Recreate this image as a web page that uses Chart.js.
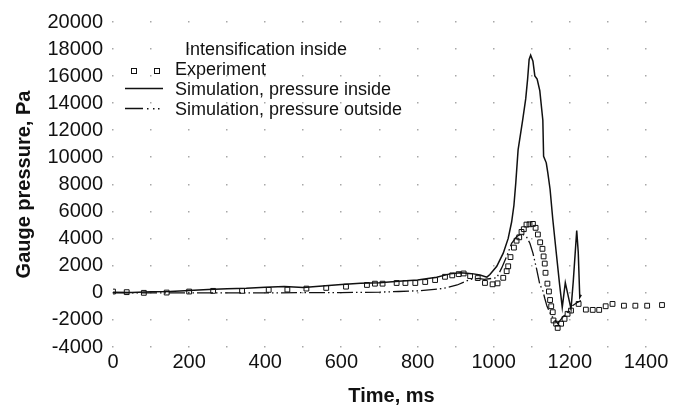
<!DOCTYPE html>
<html>
<head>
<meta charset="utf-8">
<script src="https://cdn.jsdelivr.net/npm/chart.js@4.4.0/dist/chart.umd.min.js"></script>
<style>
  body { margin: 0; background: #fff; }
</style>
</head>
<body>
<canvas id="chart" width="675" height="412"></canvas>
<script>
// --- Data ---

const legendTitle = 'Intensification inside';

// Experiment (open squares)
const expTime = [0, 36, 81, 141, 200, 263, 339, 409, 458, 508, 560, 612, 667, 688, 708, 745, 768, 794, 820, 846,
    872, 891, 908, 921, 938, 958, 977, 997, 1010, 1025, 1034, 1038, 1044, 1053, 1060, 1067, 1073, 1079, 1086, 1094,
    1103, 1110, 1116, 1122, 1128, 1131, 1134, 1136, 1141, 1145, 1148, 1151, 1155, 1157, 1164, 1168, 1177, 1186, 1194,
    1203, 1223, 1242, 1260, 1277, 1294, 1312, 1342, 1372, 1403, 1442];
const expPressure = [95, 50, 0, 20, 95, 145, 145, 218, 240, 313, 364, 458, 582, 676, 676, 727, 727, 727, 800, 945,
    1185, 1290, 1380, 1430, 1240, 1090, 730, 630, 700, 1110, 1600, 1960, 2640, 3340, 3850, 4100, 4500, 4700, 5040, 5060,
    5090, 4800, 4310, 3730, 3250, 2690, 2160, 1480, 680, 100, -530, -990, -1430, -2040, -2280, -2590, -2280, -1920, -1550,
    -1310, -820, -1240, -1260, -1260, -990, -820, -950, -950, -950, -900];

// Simulation, pressure inside (solid)
const inTime = [0, 50, 100, 150, 200, 250, 300, 350, 400, 450, 500, 550, 600, 650, 700, 750, 800, 850, 885, 912,
    930, 947, 964, 982, 990, 1008, 1025, 1038, 1047, 1053, 1058, 1064, 1076, 1084, 1089, 1093, 1097, 1103, 1108, 1114,
    1121, 1129, 1131, 1138, 1142, 1148, 1155, 1163, 1173, 1180, 1188, 1203, 1209, 1218, 1222, 1226, 1230];
const inPressure = [50, 30, 80, 100, 180, 250, 300, 330, 420, 460, 400, 500, 620, 700, 750, 850, 950, 1150, 1400, 1480,
    1450, 1400, 1310, 1160, 1350, 1960, 2930, 4020, 5230, 6450, 8140, 10560, 12750, 14320, 15780, 17230, 17550, 17110, 16020, 15780,
    14930, 12750, 10080, 9600, 8870, 7650, 5470, 3290, 630, -1070, 750, -1190, 870, 4600, 3000, -340, -150];

// Simulation, pressure outside (dash-dot)
const outTime = [0, 200, 400, 600, 700, 750, 800, 852, 880, 904, 938, 960, 975, 1000, 1008, 1021, 1034, 1047, 1060, 1073,
    1086, 1095, 1103, 1112, 1121, 1129, 1134, 1140, 1151, 1162, 1168, 1181, 1194, 1207, 1220, 1229];
const outPressure = [0, 0, 0, 20, 50, 100, 150, 270, 400, 580, 990, 1060, 1000, 1080, 1115, 1840, 2690, 3660, 4140, 4390,
    4140, 3660, 2930, 1840, 630, 150, -400, -1000, -1670, -2040, -2280, -1800, -1430, -950, -700, -580];

// tick labels
const timeTicks = [0, 200, 400, 600, 800, 1000, 1200, 1400];
const pressureTicks = [-4000, -2000, 0, 2000, 4000, 6000, 8000, 10000, 12000, 14000, 16000, 18000, 20000];

// --- Helpers ---
function toPoints(xs, ys) {
    return xs.map((x, i) => ({ x: x, y: ys[i] }));
}

const FONT = '"Liberation Sans", Arial, sans-serif';

// faint dots where the grid lines would cross
const gridDots = {
    id: 'gridDots',
    beforeDatasetsDraw(chart) {
        const { ctx, scales: { x, y } } = chart;
        ctx.save();
        ctx.fillStyle = '#a8a8a8';
        for (let t = 0; t <= x.max; t += 100) {
            for (let v = -4000; v <= 20000; v += 2000) {
                const px = x.getPixelForValue(t);
                const py = y.getPixelForValue(v);
                ctx.fillRect(Math.round(px) - 1, Math.round(py) - 1, 1.5, 1.5);
            }
        }
        ctx.restore();
    }
};

// legend drawn inside the plot, like the original
const insideLegend = {
    id: 'insideLegend',
    afterDraw(chart) {
        const ctx = chart.ctx;
        const ds = chart.data.datasets;
        ctx.save();
        ctx.font = '18px ' + FONT;
        ctx.fillStyle = '#111';
        ctx.textAlign = 'left';
        ctx.textBaseline = 'middle';
        ctx.fillText(legendTitle, 185, 50);
        ctx.fillText(ds[0].label, 175, 70);
        ctx.fillText(ds[1].label, 175, 90);
        ctx.fillText(ds[2].label, 175, 110);

        ctx.strokeStyle = '#111';
        ctx.lineWidth = 1;
        ctx.strokeRect(131.5, 68.5, 5, 5);
        ctx.strokeRect(154.5, 68.5, 5, 5);

        ctx.lineWidth = 1.5;
        ctx.beginPath();
        ctx.moveTo(125, 88.5);
        ctx.lineTo(163, 88.5);
        ctx.stroke();

        ctx.beginPath();
        ctx.moveTo(125, 108.5);
        ctx.lineTo(143, 108.5);
        ctx.stroke();
        ctx.fillStyle = '#111';
        [147, 153, 158].forEach(px => ctx.fillRect(px, 108, 1.5, 1.5));
        ctx.restore();
    }
};

new Chart(document.getElementById('chart').getContext('2d'), {
    type: 'scatter',
    data: {
        datasets: [{
            label: 'Experiment',
            data: toPoints(expTime, expPressure),
            showLine: false,
            pointStyle: 'rect',
            pointRadius: 3.4,
            borderWidth: 1,
            borderColor: '#111',
            backgroundColor: 'rgba(0,0,0,0)',
            order: 0
        }, {
            label: 'Simulation, pressure inside',
            data: toPoints(inTime, inPressure),
            showLine: true,
            pointRadius: 0,
            borderWidth: 1.5,
            borderColor: '#111',
            tension: 0,
            order: 1
        }, {
            label: 'Simulation, pressure outside',
            data: toPoints(outTime, outPressure),
            showLine: true,
            pointRadius: 0,
            borderWidth: 1.3,
            borderColor: '#111',
            borderDash: [16, 3, 1.5, 3, 1.5, 3],
            tension: 0,
            order: 2
        }]
    },
    options: {
        responsive: false,
        animation: false,
        layout: { padding: { top: 17, right: 0, bottom: 0, left: 0 } },
        plugins: {
            legend: { display: false },
            tooltip: { enabled: false }
        },
        scales: {
            x: {
                type: 'linear',
                min: 0,
                max: 1463,
                grid: { display: false, drawTicks: false },
                border: { display: false },
                ticks: {
                    padding: 3,
                    maxRotation: 0,
                    autoSkip: false,
                    color: '#111',
                    font: { family: FONT, size: 20 },
                    callback: v => String(v)
                },
                afterBuildTicks(scale) {
                    scale.ticks = timeTicks.map(v => ({ value: v }));
                },
                afterFit(scale) { scale.height = 65; },
                title: {
                    display: true,
                    text: 'Time, ms',
                    color: '#111',
                    font: { family: FONT, size: 20, weight: 'bold' },
                    padding: { top: 4, bottom: 4 }
                }
            },
            y: {
                min: -4000,
                max: 20000,
                grid: { display: false, drawTicks: false },
                border: { display: false },
                ticks: {
                    padding: 10,
                    autoSkip: false,
                    color: '#111',
                    font: { family: FONT, size: 20 },
                    callback: v => String(v)
                },
                afterBuildTicks(scale) {
                    scale.ticks = pressureTicks.map(v => ({ value: v }));
                },
                afterFit(scale) { scale.width = 113; },
                title: {
                    display: true,
                    text: 'Gauge pressure, Pa',
                    color: '#111',
                    font: { family: FONT, size: 20, weight: 'bold' },
                    padding: { top: 12, bottom: 4 }
                }
            }
        }
    },
    plugins: [gridDots, insideLegend]
});
</script>
</body>
</html>
